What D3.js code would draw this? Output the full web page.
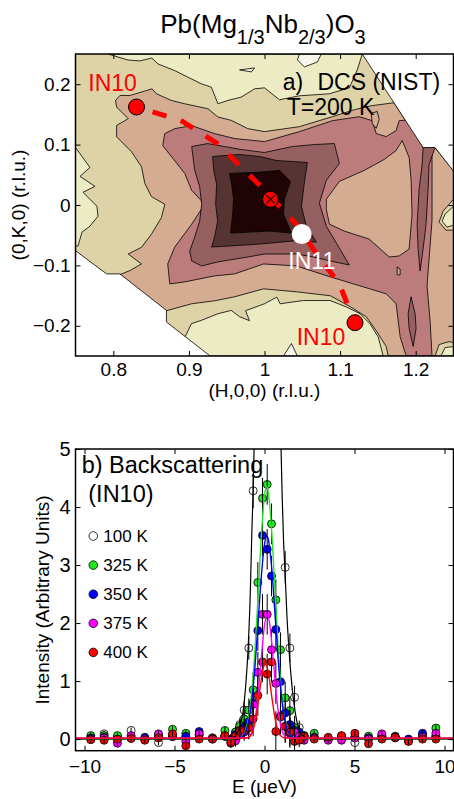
<!DOCTYPE html>
<html><head><meta charset="utf-8">
<script src="https://cdn.jsdelivr.net/npm/d3@7"></script>
<style>
body{margin:0;background:#fff}
svg{display:block}
text{font-family:"Liberation Sans",Arial,Helvetica,sans-serif}
</style>
</head><body>
<svg id="c" width="454" height="799"></svg>
<script>
// ---------------- Panel a : DCS contour map (H,K in r.l.u.) ----------------
const H_TICKS = [0.8, 0.9, 1.0, 1.1, 1.2];
const H_LABELS = ["0.8", "0.9", "1", "1.1", "1.2"];
const K_TICKS = [-0.2, -0.1, 0, 0.1, 0.2];
const K_LABELS = ["\u22120.2", "\u22120.1", "0", "0.1", "0.2"];

const LEVEL_COLORS = ["#ecebc4", "#ddd3a6", "#d4ac92", "#bd7c7c", "#966060", "#573434", "#200405"];
const LIGHT_COLOR = "#f8f8ea";

const creamTop = [[0.7929,0.25],[0.8193,0.2401],[0.8351,0.2385],[0.8509,0.2434],[0.8592,0.2335],[0.8813,0.2225],[0.9165,0.2006],[0.9297,0.1951],[0.9384,0.1676],[0.9516,0.1731],[0.9693,0.1787],[0.9868,0.1923],[1.0,0.194],[1.0198,0.1742],[1.0462,0.1808],[1.0858,0.1841],[1.1122,0.194],[1.1227,0.2236],[1.1293,0.25]];
const lightTop1 = [[1.0462,0.25],[1.0752,0.25],[1.0699,0.2368],[1.0528,0.2286],[1.0435,0.2401]];
const lightTop2 = [[0.967,0.2236],[0.9868,0.2269],[0.9828,0.2203]];
const creamLeft = [[0.75,0.0951],[0.7691,0.0622],[0.7559,0.0474],[0.7757,0.0309],[0.7599,0.021],[0.7784,-0.0021],[0.7797,-0.0185],[0.7691,-0.035],[0.7586,-0.0449],[0.7533,-0.068],[0.75,-0.068]];
const creamBottom = [[0.8951,-0.2179],[0.9033,-0.1965],[0.9165,-0.191],[0.9384,-0.18],[0.9561,-0.1745],[0.967,-0.1849],[0.9802,-0.1915],[0.9749,-0.175],[1.0,-0.1635],[1.0162,-0.1525],[1.0207,-0.1635],[1.0515,-0.1581],[1.0867,-0.1581],[1.1086,-0.169],[1.1263,-0.18],[1.1394,-0.1965],[1.1504,-0.2184],[1.157,-0.25],[0.8747,-0.25],[0.8747,-0.2179]];
const lightBottom = [[1.0251,-0.25],[1.0356,-0.2294],[1.0435,-0.25]];
const level2 = [[0.803,0.1731],[0.8087,0.1813],[0.8219,0.1813],[0.8439,0.1895],[0.8513,0.1923],[0.8571,0.1841],[0.8769,0.1731],[0.8945,0.1676],[0.9252,0.1594],[0.9384,0.1457],[0.9561,0.1401],[0.978,0.1264],[1.0,0.1215],[1.0462,0.1297],[1.0897,0.1462],[1.1187,0.1577],[1.1411,0.1643],[1.1715,0.1693],[1.2098,0.0951],[1.2256,0.0951],[1.25,0.0565],[1.25,-0.25],[1.1636,-0.25],[1.161,-0.2343],[1.1478,-0.208],[1.1346,-0.1849],[1.1135,-0.1685],[1.0871,-0.1503],[1.0422,-0.1437],[0.9987,-0.1388],[0.9604,-0.152],[0.934,-0.1586],[0.9037,-0.1635],[0.8707,-0.175],[0.8483,-0.1882],[0.806,-0.14],[0.8087,-0.1152],[0.8219,-0.1086],[0.8373,-0.0976],[0.8197,-0.0811],[0.8373,-0.0701],[0.8505,-0.0482],[0.8637,-0.0207],[0.8681,0.0012],[0.8505,0.0139],[0.8417,0.0358],[0.8373,0.0633],[0.8241,0.0881],[0.8044,0.1128],[0.8044,0.1319],[0.8197,0.1429],[0.8044,0.1622]];
const tanRight = [[1.25,0.0095],[1.2362,-0.0103],[1.2309,-0.0284],[1.2401,-0.0416],[1.25,-0.0416]];
const creamRight = [[1.25,-0.0021],[1.2388,-0.0152],[1.2349,-0.0268],[1.2414,-0.0367],[1.25,-0.0334]];
const tanCorner = [[1.2256,-0.25],[1.2309,-0.2311],[1.2441,-0.2262],[1.25,-0.2278],[1.25,-0.25]];
const creamCorner = [[1.2335,-0.25],[1.2388,-0.236],[1.25,-0.2343],[1.25,-0.25]];
const level3 = [[0.8654,0.0984],[0.8681,0.1182],[0.8813,0.1264],[0.9037,0.1314],[0.934,0.1182],[0.9604,0.11],[1.0,0.105],[1.0462,0.1215],[1.0897,0.1396],[1.1253,0.1462],[1.1425,0.1396],[1.1478,0.1182],[1.161,0.1133],[1.1741,0.1231],[1.1781,0.1396],[1.1939,0.1413],[1.2098,0.0951],[1.2216,0.0918],[1.2216,-0.0251],[1.215,-0.1339],[1.219,-0.1915],[1.2216,-0.25],[1.1873,-0.25],[1.1794,-0.2179],[1.1741,-0.1635],[1.161,-0.147],[1.1306,-0.1355],[1.0871,-0.119],[1.0422,-0.1009],[0.9987,-0.0976],[0.9604,-0.1141],[0.934,-0.1174],[0.8945,-0.1273],[0.8747,-0.1306],[0.872,-0.0976],[0.8813,-0.0696],[0.9037,-0.0317],[0.9208,0.0012],[0.9037,0.0243],[0.8945,0.0523]];
const level2Hole = [[1.0818,0.0095],[1.099,0.0391],[1.1319,0.0572],[1.1583,0.0754],[1.1741,0.0902],[1.1821,0.1067],[1.1913,0.0787],[1.1939,0.0424],[1.1952,-0.0152],[1.1913,-0.0729],[1.1781,-0.0844],[1.1649,-0.0861],[1.1385,-0.0564],[1.1055,-0.0432],[1.0858,-0.0317],[1.0818,-0.007]];
const level2Isle1 = [[1.1412,0.1516],[1.1491,0.1549],[1.1517,0.1417],[1.1478,0.1269],[1.1425,0.1351]];
const level2Isle2 = [[1.1755,-0.1026],[1.1794,-0.1059],[1.1794,-0.1157],[1.1755,-0.1157]];
const level4 = [[0.9037,0.0968],[0.9248,0.1017],[0.9472,0.0968],[0.9697,0.0918],[1.0,0.0869],[1.0369,0.0968],[1.066,0.1001],[1.0924,0.1017],[1.099,0.0688],[1.0818,0.0408],[1.0726,0.0029],[1.0818,-0.035],[1.1029,-0.0795],[1.1121,-0.0993],[1.0871,-0.0927],[1.0647,-0.0861],[1.0422,-0.0811],[1.0,-0.0811],[0.9776,-0.0861],[0.938,-0.0943],[0.9169,-0.1009],[0.9037,-0.0927],[0.9011,-0.0762],[0.9077,-0.0531],[0.9142,-0.0268],[0.9169,0.0012],[0.9142,0.0309],[0.9077,0.0573]];
const level4Stripe1 = [[1.2098,0.0951],[1.2256,0.0951],[1.2177,0.0671],[1.2164,0.026],[1.2137,-0.0317],[1.2098,-0.0729],[1.2058,-0.1091],[1.2032,-0.0729],[1.2019,-0.0317],[1.2045,0.026],[1.2085,0.0671]];
const level4Stripe2 = [[1.1939,-0.152],[1.1992,-0.18],[1.2005,-0.2047],[1.1966,-0.2343],[1.1913,-0.2047],[1.19,-0.18]];
const level5 = [[0.9314,0.0803],[0.967,0.0836],[0.9934,0.0803],[1.0158,0.0737],[1.0567,0.0704],[1.0528,0.0375],[1.0488,-0.0021],[1.0554,-0.035],[1.0686,-0.0614],[1.0369,-0.0597],[0.9934,-0.0647],[0.9512,-0.068],[0.9301,-0.0696],[0.934,-0.0531],[0.938,-0.0268],[0.9354,0.0012],[0.9367,0.0342],[0.9327,0.0589]];
const level6 = [[0.9538,0.0523],[0.9868,0.054],[1.0198,0.0573],[1.0343,0.0391],[1.0264,0.0095],[1.0251,-0.0152],[1.0356,-0.0465],[1.0066,-0.0432],[0.9802,-0.0449],[0.9551,-0.0465],[0.9578,-0.0152],[0.9591,0.0095],[0.9565,0.0342]];
const maskTopRight = [[1.1217,0.26],[1.1293,0.25],[1.2098,0.0951],[1.2256,0.0951],[1.2493,0.0572],[1.26,0.04],[1.26,0.26]];
const maskBottomLeft = [[0.74,-0.0664],[0.75,-0.0757],[0.7912,-0.1141],[0.8087,-0.1141],[0.8703,-0.1745],[0.8703,-0.1937],[0.9182,-0.2404],[0.9383,-0.26],[0.74,-0.26]];

// measurement sites (H, K)
const SITE_H = [0.8307, 1.0079, 1.0492, 1.1197];
const SITE_K = [0.1622, 0.0095, -0.0482, -0.1948];
const SITE_KIND = ["IN10", "centre", "IN11", "IN10"];
// dashed scan trajectory
const PATH_H = [0.8307, 0.8892, 0.9376, 0.9934, 1.0418, 1.069, 1.0989, 1.1197];
const PATH_K = [0.1622, 0.1401, 0.1017, 0.033, -0.0317, -0.0811, -0.1306, -0.1948];

// ---------------- Panel b : backscattering spectra ----------------
const E_TICKS = [-10, -5, 0, 5, 10];
const E_LABELS = ["\u221210", "\u22125", "0", "5", "10"];
const I_TICKS = [0, 1, 2, 3, 4, 5];
const I_LABELS = ["0", "1", "2", "3", "4", "5"];

const E_VALS = [-9.65,-8.91,-8.17,-7.41,-6.65,-5.89,-5.11,-4.37,-3.63,-2.89,-2.2,-1.87,-1.61,-1.37,-1.13,-0.87,-0.63,-0.37,-0.11,0.15,0.39,0.63,0.89,1.15,1.41,1.67,1.93,2.2,2.76,3.54,4.28,5.02,5.78,6.52,7.26,8.0,8.78,9.52];
const I_100K = [0.03,0.09,0.04,0.15,0.0,-0.06,0.05,0.02,0.08,0.02,0.05,0.0,0.12,0.25,0.5,1.57,4.28,null,null,null,null,null,null,2.96,1.57,0.72,0.2,0.06,0.05,0.0,0.03,-0.06,0.02,0.05,0.03,-0.02,0.06,0.05];
const I_325K = [0.06,0.06,0.06,0.03,0.0,0.07,0.17,0.1,0.06,0.02,0.15,-0.03,0.12,0.22,0.35,0.5,0.85,2.7,4.15,4.39,3.71,2.4,1.54,0.71,0.49,0.2,0.1,0.06,0.1,0.02,0.05,0.03,0.05,0.06,0.05,-0.03,0.06,0.19];
const I_350K = [0.02,0.03,0.0,0.02,0.03,0.03,0.06,0.05,0.13,0.01,0.05,0.0,0.08,0.15,0.2,0.3,0.62,1.87,3.51,3.27,2.81,1.89,0.99,0.45,0.25,0.15,0.12,0.03,0.03,0.0,0.05,0.04,0.02,0.04,0.04,0.0,0.1,0.05];
const I_375K = [0.0,0.02,-0.07,0.06,0.0,0.09,0.04,-0.04,0.09,0.0,0.05,-0.07,-0.03,0.1,0.12,0.2,0.6,1.15,2.15,2.15,1.54,0.96,0.4,0.22,0.1,0.12,0.05,-0.02,0.02,-0.02,-0.02,0.02,0.0,0.09,0.02,-0.03,0.03,0.1];
const I_400K = [-0.01,-0.02,0.0,0.01,-0.02,0.02,0.09,-0.115,0.0,0.0,0.06,-0.06,0.05,0.15,0.15,0.2,0.35,0.75,1.33,1.12,1.33,0.13,0.38,0.22,0.12,-0.04,-0.02,0.046,0.0,0.03,0.06,0.1,-0.08,0.0,0.03,-0.04,0.0,0.0];
const I_ERR = [0.05,0.05,0.05,0.05,0.05,0.05,0.05,0.05,0.05,0.05,0.06,0.08,0.1,0.12,0.15,0.2,0.3,0.35,0.35,0.35,0.35,0.35,0.3,0.28,0.25,0.2,0.12,0.06,0.05,0.05,0.05,0.05,0.05,0.05,0.05,0.05,0.05,0.05];

// fitted line shapes, [E, I]
const FIT_100K = [[-10.5,0],[-2.5,0],[-1.63,0.05],[-1.4,0.2],[-1.2,0.45],[-1.05,0.9],[-0.92,1.5],[-0.8,2.4],[-0.7,3.6],[-0.63,4.3],[-0.58,5.0],[-0.54,5.6],[null,null],[0.88,5.6],[0.92,5.0],[0.98,4.2],[1.06,3.4],[1.13,2.96],[1.25,2.1],[1.37,1.5],[1.5,1.0],[1.62,0.65],[1.8,0.3],[2.05,0.08],[2.4,0.01],[2.8,0],[10.5,0]];
const FIT_325K = [[-10.5,0.01],[-2,0.01],[-1.4,0.02],[-1.2,0.06],[-1.0,0.2],[-0.8,0.54],[-0.6,1.21],[-0.4,2.23],[-0.2,3.38],[0,4.2],[0.12,4.35],[0.2,4.28],[0.4,3.58],[0.6,2.46],[0.8,1.39],[1.0,0.64],[1.2,0.24],[1.4,0.08],[1.6,0.02],[2.2,0.01],[10.5,0.01]];
const FIT_350K = [[-10.5,0.012],[-2,0.012],[-1.4,0.02],[-1.2,0.05],[-1.0,0.17],[-0.8,0.45],[-0.6,0.99],[-0.4,1.8],[-0.2,2.71],[0,3.36],[0.13,3.5],[0.2,3.46],[0.4,2.95],[0.6,2.08],[0.8,1.21],[1.0,0.58],[1.2,0.23],[1.4,0.08],[1.6,0.03],[2.2,0.012],[10.5,0.012]];
const FIT_375K = [[-10.5,0.014],[-1.5,0.014],[-1.0,0.02],[-0.8,0.06],[-0.6,0.23],[-0.4,0.64],[-0.2,1.32],[0,1.96],[0.15,2.15],[0.3,1.96],[0.5,1.32],[0.7,0.64],[0.9,0.23],[1.1,0.06],[1.3,0.02],[1.8,0.014],[10.5,0.014]];
const FIT_400K = [[-10.5,0.016],[-1.3,0.016],[-1.0,0.02],[-0.8,0.05],[-0.6,0.19],[-0.4,0.52],[-0.2,0.98],[0,1.29],[0.05,1.3],[0.2,1.17],[0.4,0.74],[0.6,0.33],[0.8,0.1],[1.0,0.03],[1.3,0.016],[10.5,0.016]];

const SERIES_NAMES = ["100 K", "325 K", "350 K", "375 K", "400 K"];
const SERIES_COLORS = ["none", "#22e622", "#0000ff", "#ff00ff", "#ff0000"];
const LINE_COLORS = ["#000000", "#22e622", "#0000ff", "#ff00ff", "#ff0000"];

// =====================================================================
const svg = d3.select("#c");
const FONT = '"Liberation Sans",Arial,Helvetica,sans-serif';

// title
(function(){
  const parts = [["Pb(Mg",0],["1/3",1],["Nb",0],["2/3",1],[")O",0],["3",1]];
  const t = svg.append("text").attr("x",263).attr("y",33).attr("text-anchor","middle")
    .attr("font-size",26).attr("fill","#000");
  let cur = 0;
  parts.forEach(p => {
    const ts = t.append("tspan").text(p[0]);
    const want = p[1] ? 11 : 0;
    ts.attr("dy", want - cur);
    if (p[1]) ts.attr("font-size", 20);
    cur = want;
  });
})();

// ---------- panel a ----------
const xA = d3.scaleLinear().domain([0.75,1.25]).range([75.5,453.5]);
const yA = d3.scaleLinear().domain([-0.25,0.25]).range([356,54]);
svg.append("clipPath").attr("id","clipA").append("rect")
  .attr("x",xA(0.75)).attr("y",yA(0.25)).attr("width",xA(1.25)-xA(0.75)).attr("height",yA(-0.25)-yA(0.25));
const gA = svg.append("g").attr("clip-path","url(#clipA)");
const lineA = d3.line().x(d=>xA(d[0])).y(d=>yA(d[1]));
function poly(pts, fill, stroke){
  gA.append("path").attr("d", lineA(pts)+"Z").attr("fill",fill)
    .attr("stroke", stroke===false ? "none" : "#000").attr("stroke-width",0.8)
    .attr("stroke-linejoin","round");
}
poly([[0.74,0.26],[1.26,0.26],[1.26,-0.26],[0.74,-0.26]], LEVEL_COLORS[1], false);
poly(creamTop, LEVEL_COLORS[0]);
poly(lightTop1, LIGHT_COLOR);
poly(lightTop2, LIGHT_COLOR);
poly(creamLeft, LEVEL_COLORS[0]);
poly(creamBottom, LEVEL_COLORS[0]);
poly(lightBottom, LIGHT_COLOR);
poly(level2, LEVEL_COLORS[2]);
poly(tanRight, LEVEL_COLORS[1]);
poly(creamRight, LEVEL_COLORS[0]);
poly(tanCorner, LEVEL_COLORS[1]);
poly(creamCorner, LEVEL_COLORS[0]);
poly(level3, LEVEL_COLORS[3]);
poly(level2Hole, LEVEL_COLORS[2]);
poly(level2Isle1, LEVEL_COLORS[2]);
poly(level2Isle2, LEVEL_COLORS[2]);
poly(level4, LEVEL_COLORS[4]);
poly(level4Stripe1, LEVEL_COLORS[4]);
poly(level4Stripe2, LEVEL_COLORS[4]);
poly(level5, LEVEL_COLORS[5]);
poly(level6, LEVEL_COLORS[6]);
poly(maskTopRight, "#ffffff");
poly(maskBottomLeft, "#ffffff");

// dashed trajectory
const pathPts = PATH_H.map((h,i)=>[h, PATH_K[i]]);
gA.append("path").attr("d", lineA(pathPts)).attr("fill","none")
  .attr("stroke","#ff0000").attr("stroke-width",5).attr("stroke-dasharray","14.5,15")
  .attr("stroke-dashoffset",12.7);

// site markers
SITE_H.forEach((h,i)=>{
  const cx = xA(h), cy = yA(SITE_K[i]);
  if (SITE_KIND[i] === "IN11") {
    gA.append("circle").attr("cx",cx).attr("cy",cy).attr("r",10).attr("fill","#fff");
  } else {
    gA.append("circle").attr("cx",cx).attr("cy",cy).attr("r",8).attr("fill","#ff0000")
      .attr("stroke","#000").attr("stroke-width",1);
    if (SITE_KIND[i] === "centre") {
      const s = 4.2;
      gA.append("path").attr("d",`M${cx-s},${cy-s}L${cx+s},${cy+s}M${cx+s},${cy-s}L${cx-s},${cy+s}`)
        .attr("stroke","#3a0000").attr("stroke-width",1.4);
    }
  }
});

// annotations panel a
function label(x,y,txt,size,fill){
  return svg.append("text").attr("x",x).attr("y",y).attr("font-size",size).attr("fill",fill||"#000").text(txt);
}
label(88.3,91,"IN10",23,"#ff0000");
label(288.3,269.3,"IN11",23,"#ffffff");
label(296.7,345,"IN10",23,"#ff0000");
label(282.7,90,"a)",23);
label(317.5,90,"DCS (NIST)",23);
label(286.7,115,"T=200 K",23);

// axes panel a
function styleAxis(g, size){
  g.select(".domain").remove();
  g.selectAll("text").attr("font-family",FONT).attr("font-size",size).attr("fill","#000");
  g.selectAll("line").attr("stroke","#000").attr("stroke-width",1);
}
styleAxis(svg.append("g").attr("transform",`translate(0,${yA(-0.25)})`)
  .call(d3.axisBottom(xA).tickValues(H_TICKS).tickFormat((d,i)=>H_LABELS[i]).tickSizeInner(-5).tickSizeOuter(0).tickPadding(7)),19);
styleAxis(svg.append("g").attr("transform",`translate(0,${yA(0.25)})`)
  .call(d3.axisTop(xA).tickValues(H_TICKS).tickFormat("").tickSizeInner(-5).tickSizeOuter(0)),19);
styleAxis(svg.append("g").attr("transform",`translate(${xA(0.75)},0)`)
  .call(d3.axisLeft(yA).tickValues(K_TICKS).tickFormat((d,i)=>K_LABELS[i]).tickSizeInner(-5).tickSizeOuter(0).tickPadding(5)),19);
styleAxis(svg.append("g").attr("transform",`translate(${xA(1.25)},0)`)
  .call(d3.axisRight(yA).tickValues(K_TICKS).tickFormat("").tickSizeInner(-5).tickSizeOuter(0)),19);
svg.append("rect").attr("x",xA(0.75)).attr("y",yA(0.25)).attr("width",xA(1.25)-xA(0.75))
  .attr("height",yA(-0.25)-yA(0.25)).attr("fill","none").attr("stroke","#000").attr("stroke-width",1.5);
svg.append("text").attr("x",264.5).attr("y",397).attr("text-anchor","middle").attr("font-size",19).text("(H,0,0) (r.l.u.)");
svg.append("text").attr("transform",`translate(25,205) rotate(-90)`).attr("text-anchor","middle").attr("font-size",19).text("(0,K,0) (r.l.u.)");

// ---------- panel b ----------
const xB = d3.scaleLinear().domain([-10.5,10.5]).range([75.5,453.5]);
const yB = d3.scaleLinear().domain([-0.2,5]).range([750.7,449]);
svg.append("clipPath").attr("id","clipB").append("rect")
  .attr("x",xB(-10.5)).attr("y",yB(5)).attr("width",xB(10.5)-xB(-10.5)).attr("height",yB(-0.2)-yB(5));
const gB = svg.append("g").attr("clip-path","url(#clipB)");

const SERIES = [I_100K, I_325K, I_350K, I_375K, I_400K];
const FITS = [FIT_100K, FIT_325K, FIT_350K, FIT_375K, FIT_400K];

SERIES.forEach((vals, s)=>{
  const pts = E_VALS.map((e,i)=>({e, v: vals[i], err: I_ERR[i]})).filter(d=>d.v !== null);
  const g = gB.append("g");
  g.selectAll("circle").data(pts).join("circle")
    .attr("cx", d=>xB(d.e)).attr("cy", d=>yB(d.v)).attr("r",4)
    .attr("fill", SERIES_COLORS[s]).attr("stroke","#000").attr("stroke-width",0.8);
  g.selectAll("line").data(pts).join("line")
    .attr("x1", d=>xB(d.e)).attr("x2", d=>xB(d.e))
    .attr("y1", d=>yB(d.v - d.err)).attr("y2", d=>yB(d.v + d.err))
    .attr("stroke","#000").attr("stroke-width",1);
});
const lineB = d3.line().defined(d=>d[0]!==null).x(d=>xB(d[0])).y(d=>yB(d[1])).curve(d3.curveMonotoneX);
FITS.forEach((f,s)=>{
  gB.append("path").attr("d", lineB(f)).attr("fill","none")
    .attr("stroke", LINE_COLORS[s]).attr("stroke-width", s===0 ? 1.2 : 1.4);
});

styleAxis(svg.append("g").attr("transform",`translate(0,${yB(-0.2)})`)
  .call(d3.axisBottom(xB).tickValues(E_TICKS).tickFormat((d,i)=>E_LABELS[i]).tickSizeInner(-5).tickSizeOuter(0).tickPadding(8.5)),19);
styleAxis(svg.append("g").attr("transform",`translate(0,${yB(5)})`)
  .call(d3.axisTop(xB).tickValues(E_TICKS).tickFormat("").tickSizeInner(-5).tickSizeOuter(0)),19);
styleAxis(svg.append("g").attr("transform",`translate(${xB(-10.5)},0)`)
  .call(d3.axisLeft(yB).tickValues(I_TICKS).tickFormat((d,i)=>I_LABELS[i]).tickSizeInner(-5).tickSizeOuter(0).tickPadding(5)),20);
styleAxis(svg.append("g").attr("transform",`translate(${xB(10.5)},0)`)
  .call(d3.axisRight(yB).tickValues(I_TICKS).tickFormat("").tickSizeInner(-5).tickSizeOuter(0)),19);
svg.append("rect").attr("x",xB(-10.5)).attr("y",yB(5)).attr("width",xB(10.5)-xB(-10.5))
  .attr("height",yB(-0.2)-yB(5)).attr("fill","none").attr("stroke","#000").attr("stroke-width",1.5);

label(81.7,473.3,"b) Backscattering",23.5);
label(88.3,501.7,"(IN10)",23.5);
SERIES_NAMES.forEach((n,i)=>{
  const cy = 536 + i*29.1;
  svg.append("circle").attr("cx",93.3).attr("cy",cy).attr("r",4.3)
    .attr("fill", i===0 ? "#fff" : SERIES_COLORS[i]).attr("stroke","#000").attr("stroke-width",0.8);
  label(103.3, cy+6, n, 17);
});
svg.append("text").attr("x",264.5).attr("y",793).attr("text-anchor","middle").attr("font-size",19).text("E (\u03bceV)");
svg.append("text").attr("transform",`translate(49,600) rotate(-90)`).attr("text-anchor","middle").attr("font-size",19).text("Intensity (Arbitrary Units)");
</script>
</body></html>
